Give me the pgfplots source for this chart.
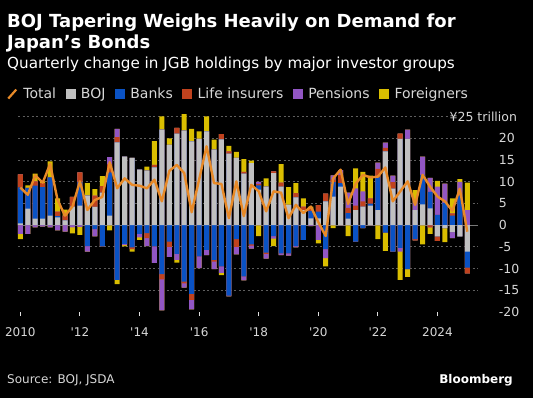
\documentclass[border=0pt]{standalone}
\usepackage{fontspec}
\usepackage{pgfplots}
\pgfplotsset{compat=1.18}
\usepackage{pgfplotstable}
\setmainfont{DejaVu Sans}

\definecolor{bojc}{RGB}{192,192,192}
\definecolor{bankc}{RGB}{10,82,196}
\definecolor{lifec}{RGB}{192,66,30}
\definecolor{pensc}{RGB}{146,86,196}
\definecolor{forc}{RGB}{218,190,0}
\definecolor{totc}{RGB}{232,138,40}
\definecolor{gridc}{RGB}{95,95,95}
\definecolor{zeroc}{RGB}{120,120,120}
\definecolor{txtc}{RGB}{215,215,215}

\pgfplotstableread{
i boj banks life pens for total
0 0.4 8.3 3.0 -2.0 -1.2 8.7
1 3.8 4.8 0.0 -2.0 0.6 7.0
2 1.5 7.6 1.0 -0.5 1.8 11.5
3 1.5 7.3 0.9 -0.3 0.4 9.8
4 2.2 8.8 0.0 -0.5 3.7 14.1
5 1.8 0.3 1.0 -1.2 3.1 5.8
6 1.1 0.0 1.1 -1.5 1.4 2.2
7 4.3 0.0 2.2 -0.5 -1.4 4.3
8 4.5 5.5 2.2 -0.4 -1.8 10.1
9 6.8 -4.8 0.0 -1.3 2.9 3.5
10 4.2 -0.9 2.6 -1.7 1.5 5.8
11 7.5 -4.9 1.5 0.0 2.3 6.5
12 2.2 10.0 1.8 1.7 -1.2 14.5
13 19.1 -12.6 1.2 1.9 -1.0 8.5
14 15.8 -4.3 0.0 -0.3 -0.3 10.8
15 15.5 -5.1 -0.4 0.0 -0.6 9.3
16 12.8 -2.0 0.0 -0.8 -0.6 9.1
17 12.6 -1.8 -1.2 -1.8 0.9 8.5
18 13.3 -4.9 0.6 -3.8 5.5 10.5
19 22.0 -11.3 -1.2 -7.1 3.1 5.5
20 18.5 -3.8 -1.2 -2.3 1.5 12.5
21 21.1 -6.6 1.3 -1.4 -0.6 13.9
22 21.8 -13.0 -0.4 -1.0 3.8 12.0
23 19.3 -15.8 -1.4 -2.2 2.9 3.0
24 19.9 -7.2 0.0 -2.7 1.7 10.5
25 21.6 -5.7 0.0 -1.2 3.5 18.2
26 17.4 -8.0 -0.4 -1.7 2.3 9.7
27 19.8 -9.5 1.2 -1.5 -0.5 9.5
28 16.5 -16.2 0.5 -0.2 1.3 1.6
29 15.5 -3.2 -1.8 -1.7 1.4 10.1
30 11.9 -11.8 0.4 -0.9 2.9 2.1
31 14.3 -4.4 -0.3 -0.7 0.6 9.3
32 8.2 1.0 0.3 0.5 -2.5 7.8
33 8.9 -6.3 -0.3 -1.1 1.9 3.2
34 12.0 -2.5 0.4 -0.6 -1.7 7.8
35 8.9 -6.5 0.9 -0.4 4.3 7.5
36 4.7 -6.5 0.0 -0.5 4.1 1.6
37 6.4 -4.8 1.0 -0.3 2.3 4.7
38 3.5 -3.4 0.8 0.0 1.9 2.8
39 1.6 1.7 0.6 -0.2 0.4 4.3
40 1.6 1.5 1.5 -3.4 -0.8 0.7
41 5.5 -5.5 1.8 -2.1 -1.9 -2.5
42 6.6 3.3 0.6 1.0 -0.7 10.8
43 8.9 0.8 1.9 1.1 0.0 12.8
44 1.5 1.3 1.2 3.5 -2.5 4.9
45 3.5 -3.8 1.0 4.0 4.6 9.5
46 4.3 -0.7 1.2 2.3 4.5 11.6
47 4.5 0.5 1.2 0.0 5.2 11.0
48 3.5 7.5 2.0 1.4 -3.2 11.2
49 17.0 -1.7 0.8 1.2 -4.2 13.3
50 8.4 -6.1 1.5 1.5 0.0 5.5
51 19.9 -5.2 1.2 -0.9 -6.5 7.8
52 19.9 -10.1 0.0 2.1 -1.8 10.1
53 3.5 -3.2 -0.3 2.3 2.3 4.7
54 4.8 6.8 0.0 4.2 -4.4 11.6
55 3.9 3.8 -0.5 3.2 -1.5 8.9
56 -2.6 2.4 -1.0 6.5 1.3 6.6
57 -0.7 5.1 0.0 4.5 -3.2 5.5
58 -1.6 2.2 0.5 -1.4 3.5 3.3
59 -2.6 6.8 0.0 3.2 0.6 8.4
60 -6.1 -3.7 -1.3 3.5 6.3 -1.5
}\data

\pgfplotsset{mybar/.style={ybar, bar width=5bp, bar shift=0pt, draw=none, forget plot}}

\begin{document}
\begin{tikzpicture}[x=1bp,y=1bp]
\fill[black] (0,0) rectangle (533,398);
\useasboundingbox (0,0) rectangle (533,398);
\node[anchor=base west, inner sep=0pt, text=white, font=\fontsize{18bp}{20bp}\selectfont\bfseries] at (7,371) {BOJ Tapering Weighs Heavily on Demand for};
\node[anchor=base west, inner sep=0pt, text=white, font=\fontsize{18bp}{20bp}\selectfont\bfseries] at (7,350) {Japan’s Bonds};
\node[anchor=base west, inner sep=0pt, text=white, font=\fontsize{15.2bp}{17bp}\selectfont] at (7,330) {Quarterly change in JGB holdings by major investor groups};
\node[anchor=base west, inner sep=0pt, text=txtc, font=\fontsize{12bp}{14bp}\selectfont] at (7,15) {Source: BOJ, JSDA};
\node[anchor=base east, inner sep=0pt, text=white, font=\fontsize{12bp}{14bp}\selectfont\bfseries] at (513,15) {Bloomberg};
\begin{scope}
\clip (0,0) rectangle (518.5,398);
\begin{axis}[
  at={(18.1bp,86bp)}, anchor=south west, scale only axis,
  width=459.6bp, height=195.3bp,
  xmin=-0.3, xmax=61.4, ymin=-20, ymax=25,
  clip=false,
  axis line style={draw=none},
  xtick={0,8,...,56},
  xticklabels={2010,\textquotesingle12,\textquotesingle14,\textquotesingle16,\textquotesingle18,\textquotesingle20,\textquotesingle22,2024},
  xtick pos=bottom, tick align=outside, major tick length=4bp,
  xtick style={draw=txtc!80, line width=0.9bp},
  xticklabel style={text=txtc, font=\fontsize{12bp}{14bp}\selectfont, anchor=base, inner sep=0pt, yshift=-20bp},
  ytick={-15,-10,-5,0,5,10,15,20,25},
  yticklabels={-15,-10,-5,0,5,10,15,20,{}},
  extra y ticks={-20}, extra y tick labels={-20},
  extra y tick style={grid=none},
  ymajorgrids,
  grid style={gridc, dash pattern=on 2bp off 2.5bp, line width=0.9bp},
  yticklabel pos=right, ytick style={draw=none},
  yticklabel style={text=txtc, font=\fontsize{12.5bp}{14bp}\selectfont, anchor=west, inner sep=0pt, xshift=17bp},
  legend columns=-1,
  legend style={at={(-0.0242,1.116)}, anchor=west, draw=none, fill=none, text=txtc,
    font=\fontsize{14bp}{16bp}\selectfont, inner sep=0pt,
    /tikz/every odd column/.append style={column sep=4bp},
    /tikz/every even column/.append style={column sep=7.5bp}},
]
\addplot[forget plot, draw=zeroc, line width=1bp] coordinates {(-0.3,0) (61.4,0)};
% positive stacks (painter order)
\addplot[mybar, fill=forc] table[x=i, y expr={max(\thisrow{boj},0)+max(\thisrow{banks},0)+max(\thisrow{life},0)+max(\thisrow{pens},0)+max(\thisrow{for},0)}] {\data};
\addplot[mybar, fill=pensc] table[x=i, y expr={max(\thisrow{boj},0)+max(\thisrow{banks},0)+max(\thisrow{life},0)+max(\thisrow{pens},0)}] {\data};
\addplot[mybar, fill=lifec] table[x=i, y expr={max(\thisrow{boj},0)+max(\thisrow{banks},0)+max(\thisrow{life},0)}] {\data};
\addplot[mybar, fill=bankc] table[x=i, y expr={max(\thisrow{boj},0)+max(\thisrow{banks},0)}] {\data};
\addplot[mybar, fill=bojc] table[x=i, y expr={max(\thisrow{boj},0)}] {\data};
% negative stacks
\addplot[mybar, fill=forc] table[x=i, y expr={min(\thisrow{boj},0)+min(\thisrow{banks},0)+min(\thisrow{life},0)+min(\thisrow{pens},0)+min(\thisrow{for},0)}] {\data};
\addplot[mybar, fill=pensc] table[x=i, y expr={min(\thisrow{boj},0)+min(\thisrow{banks},0)+min(\thisrow{life},0)+min(\thisrow{pens},0)}] {\data};
\addplot[mybar, fill=lifec] table[x=i, y expr={min(\thisrow{boj},0)+min(\thisrow{banks},0)+min(\thisrow{life},0)}] {\data};
\addplot[mybar, fill=bankc] table[x=i, y expr={min(\thisrow{boj},0)+min(\thisrow{banks},0)}] {\data};
\addplot[mybar, fill=bojc] table[x=i, y expr={min(\thisrow{boj},0)}] {\data};
% total line
\addplot[forget plot, totc, line width=2.4bp, line join=round, no marks] table[x=i, y=total] {\data};
\addlegendimage{legend image code/.code={\draw[totc, line width=2.2bp] (0bp,-4.5bp) -- (8bp,4.5bp);}}
\addlegendentry{Total}
\addlegendimage{legend image code/.code={\fill[bojc] (0bp,-4.5bp) rectangle (9bp,4.5bp);}}
\addlegendentry{BOJ}
\addlegendimage{legend image code/.code={\fill[bankc] (0bp,-4.5bp) rectangle (9bp,4.5bp);}}
\addlegendentry{Banks}
\addlegendimage{legend image code/.code={\fill[lifec] (0bp,-4.5bp) rectangle (9bp,4.5bp);}}
\addlegendentry{Life insurers}
\addlegendimage{legend image code/.code={\fill[pensc] (0bp,-4.5bp) rectangle (9bp,4.5bp);}}
\addlegendentry{Pensions}
\addlegendimage{legend image code/.code={\fill[forc] (0bp,-4.5bp) rectangle (9bp,4.5bp);}}
\addlegendentry{Foreigners}
\node[anchor=east, fill=black, inner sep=1.5bp, text=txtc, font=\fontsize{12.5bp}{14bp}\selectfont] at ([xshift=41bp]rel axis cs:1,1) {¥25 trillion};
\end{axis}
\end{scope}
\end{tikzpicture}
\end{document}
